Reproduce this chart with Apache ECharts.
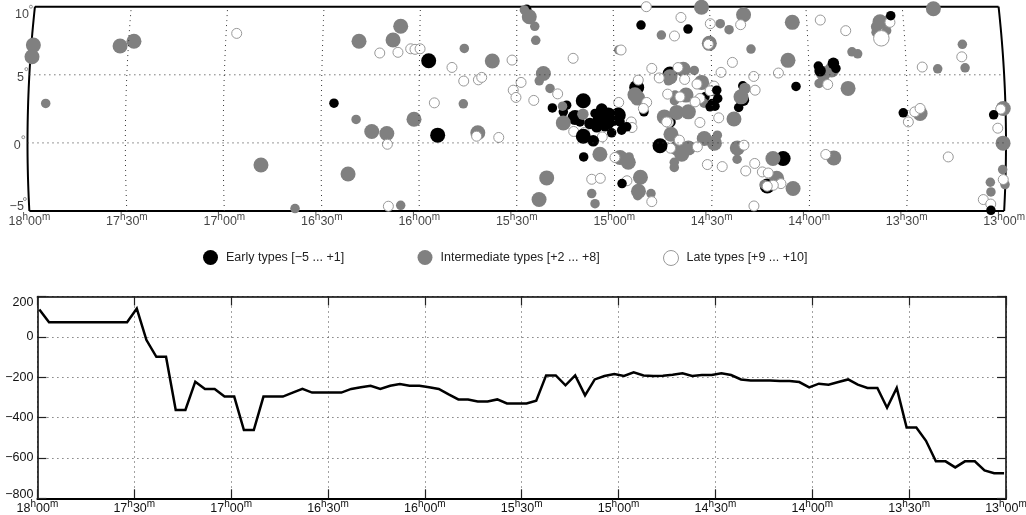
<!DOCTYPE html>
<html><head><meta charset="utf-8">
<script src="https://cdn.jsdelivr.net/npm/echarts@6/dist/echarts.min.js"></script>
<style>html,body{margin:0;padding:0;background:#fff}#c{width:1026px;height:515px}</style>
</head><body><div id="c"></div>
<script>
// sky map: [projected RA hours, Dec degrees, size class]
const earlyBack = [[14.887,4.07,3],[14.717,5.05,3],[14.538,3.38,1],[14.345,4.19,1],[14.342,3.14,2],[14.366,2.60,1],[15.449,9.81,1],[14.139,-1.15,3],[14.220,-3.16,3],[14.850,2.28,1],[14.666,-0.66,1],[14.717,1.54,2]];
const earlyFront = [[16.434,2.92,1],[15.950,6.03,3],[15.904,0.57,3],[14.865,8.65,1],[14.625,8.36,1],[15.318,2.57,1],[15.158,-1.03,1],[14.962,-2.99,1],[14.768,-0.21,3],
[15.160,3.09,3],[15.245,2.77,1],[15.262,2.28,1],[15.202,1.87,3],[15.177,1.54,1],[15.066,2.48,2],[15.100,2.16,1],[15.126,1.43,2],[15.075,1.67,3],[15.091,1.18,2],[15.032,2.04,3],[15.032,1.43,2],[14.981,2.04,3],[15.007,1.79,3],[14.972,1.54,1],[15.049,1.18,1],[15.160,0.49,3],[15.109,0.15,2],[15.015,0.74,1],[14.964,0.93,1],[14.938,1.18,1],
[14.478,3.87,1],[14.473,3.26,1],[14.487,2.70,1],[14.501,2.90,1],[14.512,2.65,1],[14.073,4.15,1],[13.959,5.64,1],[13.950,5.29,2],[13.882,5.84,2],[13.869,5.47,1],[13.589,9.34,1],[13.525,2.21,1],[13.063,2.06,1],[13.077,-4.95,1]];
const intermediate = [[17.970,7.18,3],[17.977,6.32,3],[17.907,2.90,1],[17.527,7.11,3],[17.456,7.46,3],[16.807,-1.62,3],[16.633,-4.82,1],[16.306,7.46,3],[16.093,8.56,3],[16.132,7.55,3],[15.768,6.94,1],[15.625,6.01,3],[16.025,1.74,3],[16.321,1.72,1],[16.241,0.84,3],[16.164,0.69,3],[15.773,2.87,1],[15.699,0.74,3],[16.362,-2.28,3],[16.093,-4.58,1],[15.461,9.76,1],[15.436,9.26,3],[15.408,8.56,1],[15.403,7.53,1],[14.979,6.82,1],[15.364,5.10,3],[15.385,4.56,1],[15.330,4.00,1],[15.075,-0.83,3],[15.347,-2.57,3],[15.386,-4.16,3],[15.117,-3.72,1],[15.100,-4.46,1],[14.761,7.92,1],[14.896,3.54,3],[14.882,3.29,3],[14.972,-1.07,3],[14.930,-1.42,3],[14.926,-1.03,1],[14.868,-2.52,3],[14.878,-3.55,3],[14.882,-3.88,1],[14.814,-3.72,1],[14.695,-1.42,1],[14.695,-1.80,1],[14.712,0.64,3],[14.717,4.85,3],[14.725,4.56,1],[14.691,3.51,1],[14.694,3.10,1],[14.746,1.91,3],[14.683,2.24,3],[14.623,2.28,3],[14.635,3.51,3],[14.666,-0.54,3],[14.683,-0.37,3],[14.623,-0.37,3],[14.657,-0.83,3],[14.556,9.96,3],[14.341,9.41,3],[14.460,8.75,1],[14.415,8.31,1],[14.516,7.31,3],[14.303,6.89,1],[14.593,5.32,1],[14.649,5.40,3],[14.555,4.44,3],[14.496,3.87,2],[14.543,2.92,1],[14.354,3.38,3],[14.334,4.00,2],[14.390,1.76,3],[14.542,0.32,3],[14.475,0.57,1],[14.490,-0.02,3],[14.373,-0.37,3],[14.374,-1.20,1],[14.191,-1.15,3],[14.172,-2.60,3],[14.088,-3.35,3],[14.236,-3.06,1],[14.092,8.85,3],[14.114,6.06,3],[13.807,4.00,3],[13.955,4.37,1],[13.933,5.10,3],[13.891,5.35,3],[13.879,5.47,1],[13.644,8.90,3],[13.661,8.53,2],[13.664,8.12,1],[13.610,8.24,1],[13.606,9.02,1],[13.371,9.85,3],[13.787,6.69,1],[13.758,6.54,1],[13.223,7.24,1],[13.209,5.51,1],[13.349,5.44,1],[13.439,2.16,3],[13.014,2.53,3],[13.015,-0.02,3],[13.880,-1.10,3],[13.017,-1.96,1],[13.080,-2.89,1],[13.077,-3.60,1],[13.005,-3.06,1]];
const intermediateFront = [[15.266,2.70,1],[15.262,1.47,3],[15.162,2.10,2]];
const late = [[16.931,8.04,1],[16.200,6.60,1],[16.107,6.65,1],[16.042,6.91,1],[16.020,6.87,1],[15.994,6.91,1],[16.161,-0.10,1],[16.156,-4.65,1],[15.831,5.54,1],[15.771,4.54,1],[15.696,4.63,1],[15.679,4.81,1],[15.921,2.94,1],[15.592,0.40,1],[15.705,0.49,1],[15.524,6.08,1],[15.478,4.44,1],[15.518,3.87,1],[15.504,3.34,1],[15.413,3.12,1],[15.291,3.60,1],[15.212,6.21,1],[15.209,0.84,1],[15.155,0.76,1],[15.063,0.44,1],[15.117,-2.67,1],[15.073,-2.60,1],[14.979,2.97,1],[14.967,6.82,1],[14.915,1.54,1],[14.911,1.13,1],[14.998,-1.07,1],[14.937,-2.78,1],[14.810,-4.31,1],[14.838,10.00,1],[14.694,7.85,1],[14.661,9.21,1],[14.810,5.47,1],[14.772,4.77,1],[14.676,5.53,1],[14.879,4.61,1],[14.836,2.97,1],[14.853,2.53,1],[14.729,3.58,1],[14.725,1.50,1],[14.714,-0.39,1],[14.511,8.75,1],[14.356,8.68,1],[14.521,7.24,1],[14.398,5.91,1],[14.456,5.18,1],[14.289,4.88,1],[14.642,4.66,1],[14.579,4.32,1],[14.492,4.17,1],[14.282,3.87,1],[14.512,3.82,1],[14.564,3.26,1],[14.589,3.01,1],[14.666,3.38,1],[14.564,1.50,1],[14.468,1.84,1],[14.734,1.54,1],[14.526,-1.59,1],[14.450,-1.74,1],[14.577,-0.29,1],[14.339,-0.17,1],[14.284,-1.51,1],[14.330,-2.06,1],[14.245,-2.13,1],[14.215,-2.21,1],[14.288,-4.63,1],[14.669,0.20,1],[13.949,9.02,1],[13.819,8.24,1],[13.637,7.68,3],[13.593,8.85,1],[13.226,6.32,1],[13.428,5.57,1],[14.163,5.13,1],[13.911,4.29,1],[13.466,2.28,1],[13.439,2.53,1],[13.499,1.54,1],[13.042,1.08,1],[13.027,2.48,1],[13.295,-1.03,1],[13.921,-0.85,1],[13.014,-2.69,1],[13.116,-4.16,1],[13.078,-4.49,1],[14.150,-2.99,1],[14.189,-3.11,1],[14.220,-3.18,1]];

// lower panel
const curveRA = [17.990,17.940,17.889,17.839,17.789,17.739,17.688,17.638,17.588,17.537,17.487,17.437,17.386,17.336,17.286,17.236,17.185,17.135,17.085,17.034,16.984,16.934,16.883,16.833,16.783,16.733,16.682,16.632,16.582,16.531,16.481,16.431,16.380,16.330,16.280,16.230,16.179,16.129,16.079,16.028,15.978,15.928,15.877,15.827,15.777,15.727,15.676,15.626,15.576,15.525,15.475,15.425,15.374,15.324,15.274,15.224,15.173,15.123,15.073,15.022,14.972,14.922,14.871,14.821,14.771,14.721,14.670,14.620,14.570,14.519,14.469,14.419,14.368,14.318,14.268,14.218,14.167,14.117,14.067,14.016,13.966,13.916,13.865,13.815,13.765,13.715,13.664,13.614,13.564,13.513,13.463,13.413,13.362,13.312,13.262,13.212,13.161,13.111,13.061,13.010];
const curveValue = [135,72,72,72,72,72,72,72,72,72,140,-16,-99,-99,-362,-362,-222,-258,-258,-296,-296,-462,-462,-296,-296,-296,-276,-258,-276,-276,-276,-276,-258,-250,-242,-258,-242,-234,-242,-242,-250,-258,-285,-310,-310,-320,-320,-310,-330,-330,-330,-316,-191,-191,-240,-191,-290,-211,-194,-184,-194,-176,-191,-194,-193,-188,-181,-194,-189,-189,-181,-189,-211,-216,-216,-216,-219,-219,-224,-250,-232,-237,-224,-211,-237,-253,-253,-351,-253,-449,-449,-515,-617,-617,-647,-617,-617,-662,-676,-676];

const raTicks = [18,17.5,17,16.5,16,15.5,15,14.5,14,13.5,13];
const raGridLines = [17.5,17,16.5,16,15.5,15,14.5,14,13.5];
const decTicks = [10,5,0,-5];
const decGridLines = [5,0];
const valueTicks = [200,0,-200,-400,-600,-800];
const legendNames = ['Early types [\u22125 ... +1]','Intermediate types [+2 ... +8]','Late types [+9 ... +10]'];

// sinusoidal sky projection, centred on 15h30m
const RA0 = 15.5, RAmax = 18, RAmin = 13, DECmin = -5, DECmax = 10;
const proj = (h, d) => [(h - RA0) * Math.cos(d * Math.PI / 180), d];
const range = (a, b, n) => Array.from({length: n + 1}, (_, i) => a + (b - a) * i / n);
const SIZE = {1: 9.5, 2: 11.5, 3: 15};
const FONT = 'Liberation Sans';
const FS = 12.5;
const raLabel = v => {
  const h = Math.floor(v + 1e-6), m = Math.abs(v - h) > 0.25 ? '30' : '00';
  return `{n|${h}}{s|h}{n|${m}}{s|m}`;
};
const raRich = {
  n: {fontSize: FS, lineHeight: 16, fontFamily: FONT, color: '#111', verticalAlign: 'bottom'},
  s: {fontSize: 10, lineHeight: 16, fontFamily: FONT, color: '#111', verticalAlign: 'top'}
};
const minus = v => String(v).replace('-', '\u2212');

function dots(name, pts) {
  return {type: 'line', name, xAxisIndex: 0, yAxisIndex: 0, data: pts, symbol: 'none', silent: true, clip: false, z: 8,
    lineStyle: {color: '#333', width: 1, type: [1, 4]}};
}
function frame(name, pts) {
  return {type: 'line', name, xAxisIndex: 0, yAxisIndex: 0, data: pts, symbol: 'none', silent: true, clip: false, z: 1,
    lineStyle: {color: '#000', width: 2}};
}
function marks(name, arr, z, style) {
  return {type: 'scatter', name, xAxisIndex: 0, yAxisIndex: 0, clip: false, z,
    data: arr.map(p => [p[0] - RA0, p[1], p[2]]),
    symbol: 'circle', symbolSize: v => SIZE[v[2]] + (style.borderWidth ? 0.5 : 0),
    itemStyle: {opacity: 1, ...style}, emphasis: {disabled: true}};
}
const decSpan = range(DECmin, DECmax, 30);
const decLabelShift = {10: [-6, 8.3], 5: [-5.5, 2.3], 0: [-6.8, 2.3], [-5]: [-5.5, -4]};
const decRingShift = {10: [-4, 0], 5: [-3, -5.7], 0: [-4.2, -5.7], [-5]: [-4.5, -12]};
const series = [
  frame('west', decSpan.map(d => proj(RAmax, d))),
  frame('east', decSpan.map(d => proj(RAmin, d))),
  frame('north', [proj(RAmax, DECmax), proj(RAmin, DECmax)]),
  frame('south', [proj(RAmax, DECmin), proj(RAmin, DECmin)]),
  marks(legendNames[0], earlyBack, 2, {color: '#000'}),
  marks(legendNames[1], intermediate, 3, {color: '#808080'}),
  marks(legendNames[2], late, 4, {color: '#fff', borderColor: '#999', borderWidth: 1}),
  marks(legendNames[0], earlyFront, 5, {color: '#000'}),
  marks(legendNames[1], intermediateFront, 6, {color: '#808080'}),
  ...raGridLines.map(h => dots('ra' + h, decSpan.map(d => proj(h, d)))),
  ...decGridLines.map(d => dots('dec' + d, range(RAmax, RAmin, 20).map(h => proj(h, d)))),
  {type: 'scatter', name: 'raLabels', xAxisIndex: 0, yAxisIndex: 0, clip: false, z: 9, silent: true, symbolSize: 0,
    data: raTicks.map(h => ({value: proj(h, DECmin), tick: h})),
    label: {show: true, position: 'bottom', distance: 1, formatter: p => raLabel(p.data.tick), rich: raRich}},
  {type: 'scatter', name: 'decLabels', xAxisIndex: 0, yAxisIndex: 0, clip: false, z: 9, silent: true, symbolSize: 0,
    data: decTicks.map(d => ({value: proj(RAmax, d), label: {offset: decLabelShift[d]}})),
    label: {show: true, position: 'left', distance: 0, fontSize: FS, fontFamily: FONT, color: '#111', formatter: p => minus(p.value[1])}},
  ...decTicks.map(d => ({type: 'scatter', name: 'decRing' + d, xAxisIndex: 0, yAxisIndex: 0, clip: false, z: 9, silent: true,
    symbol: 'circle', symbolSize: 3, symbolOffset: decRingShift[d], data: [proj(RAmax, d)],
    itemStyle: {opacity: 1, color: '#fff', borderColor: '#777', borderWidth: 0.8}})),
  {type: 'line', name: 'curve', xAxisIndex: 1, yAxisIndex: 1, symbol: 'none', silent: true, z: 5,
    data: curveRA.map((h, i) => [h, curveValue[i]]), lineStyle: {color: '#000', width: 2.5, join: 'miter'}}
];

const dotted = {show: true, lineStyle: {color: '#444', width: 1, type: [1, 4]}};
const axisLine = w => ({show: true, onZero: false, lineStyle: {color: '#000', width: w}});
const tick = {show: true, inside: true, length: 9, lineStyle: {color: '#222', width: 1.2}};
const xBase = {type: 'value', gridIndex: 1, min: RAmin, max: RAmax, interval: 0.5, inverse: true};
const yBase = {type: 'value', gridIndex: 1, min: valueTicks[5], max: valueTicks[0], interval: 200};
const legendAt = (name, left, borderWidth) => ({
  data: [{name, itemStyle: borderWidth ? {borderWidth, borderColor: '#999', color: '#fff'} : undefined}],
  left, top: 250, itemWidth: 15, itemHeight: 15, icon: 'circle', selectedMode: false, padding: 0,
  textStyle: {fontFamily: FONT, fontSize: FS, color: '#222', padding: [0, 0, 0, 3]}
});

const chart = echarts.init(document.getElementById('c'));
chart.setOption({
  animation: false,
  backgroundColor: '#fff',
  textStyle: {fontFamily: FONT},
  grid: [
    {left: 27.5, right: 20, top: 6.7, height: 204.3, outerBoundsMode: 'none'},
    {left: 37.4, right: 20, top: 296.5, height: 201.8, outerBoundsMode: 'none'}
  ],
  legend: [legendAt(legendNames[0], 203, 0), legendAt(legendNames[1], 417.5, 0), legendAt(legendNames[2], 663, 1)],
  xAxis: [
    {type: 'value', gridIndex: 0, min: RAmin - RA0, max: RAmax - RA0, inverse: true, show: false},
    {...xBase, position: 'bottom', axisLine: axisLine(2), axisTick: tick, splitLine: dotted,
      axisLabel: {margin: 1, showMinLabel: true, showMaxLabel: true, hideOverlap: false, formatter: raLabel, rich: raRich}},
    {...xBase, position: 'top', axisLine: axisLine(1.5), axisTick: tick, splitLine: {show: false}, axisLabel: {show: false}}
  ],
  yAxis: [
    {type: 'value', gridIndex: 0, min: DECmin, max: DECmax, show: false},
    {...yBase, position: 'left', axisLine: axisLine(1.5), axisTick: tick, splitLine: dotted,
      axisLabel: {margin: 4, fontSize: FS, fontFamily: FONT, color: '#111', verticalAlignMinLabel: 'bottom', verticalAlignMaxLabel: 'top',
        formatter: v => v === valueTicks[5] ? `{low|${minus(v)}}` : minus(v),
        rich: {low: {fontSize: FS, fontFamily: FONT, color: '#111', lineHeight: 7}}}},
    {...yBase, position: 'right', axisLine: axisLine(1.5), axisTick: tick, splitLine: {show: false}, axisLabel: {show: false}}
  ],
  series
});
</script></body></html>
